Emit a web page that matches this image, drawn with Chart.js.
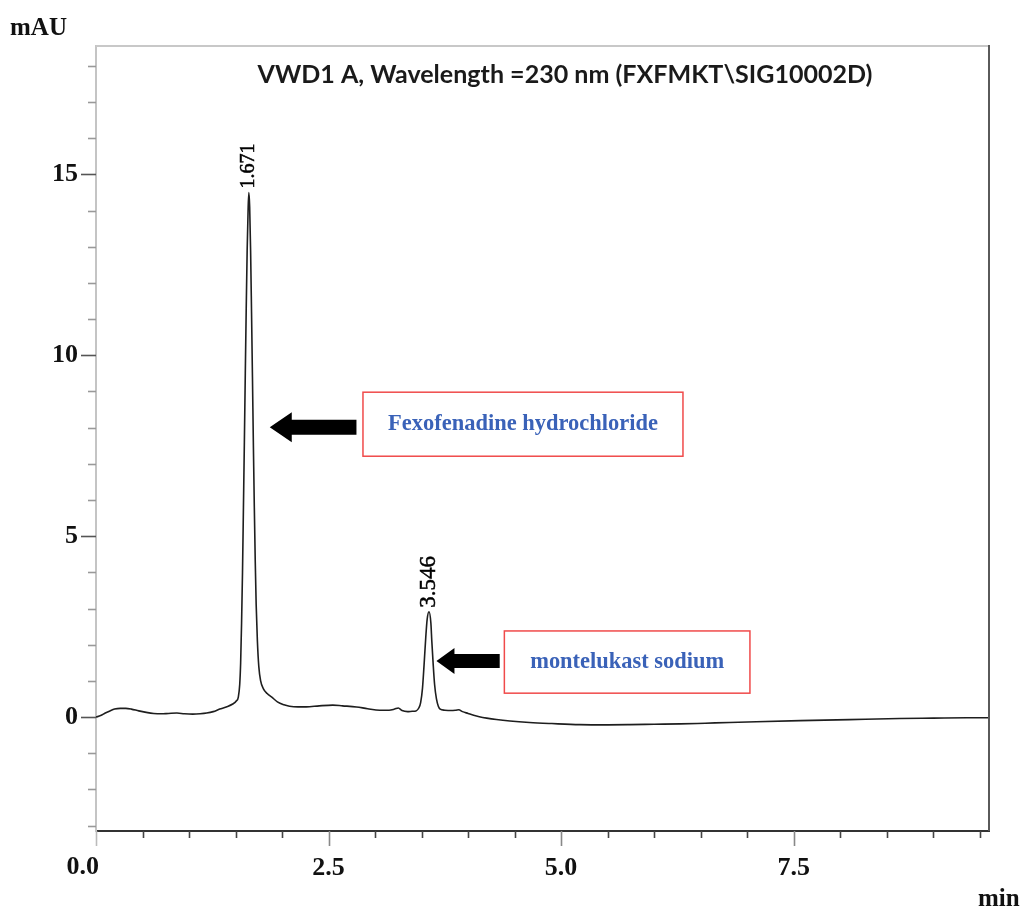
<!DOCTYPE html>
<html>
<head>
<meta charset="utf-8">
<script src="https://cdn.jsdelivr.net/npm/chart.js@4"></script>
<style>
  html, body { margin: 0; padding: 0; background: #ffffff; }
  canvas { display: block; }
</style>
</head>
<body>
<canvas id="c" width="1028" height="910"></canvas>
<script>
// ---- data (time in min, absorbance in mAU) ----
const times = [
  0.00, 0.05, 0.10, 0.15, 0.20, 0.26, 0.32, 0.38, 0.46, 0.54, 0.62, 0.70, 0.78, 0.87, 0.95,
  1.04, 1.12, 1.19, 1.26, 1.33, 1.40, 1.47, 1.51, 1.53,
  1.545, 1.555, 1.565, 1.575, 1.585, 1.595, 1.605, 1.615, 1.625, 1.635, 1.643, 1.652, 1.662,
  1.672, 1.682, 1.692, 1.702, 1.712, 1.722, 1.735, 1.75, 1.77, 1.80, 1.84, 1.89, 1.95, 2.02,
  2.08, 2.17, 2.26, 2.40, 2.545, 2.65, 2.80, 2.92, 3.05, 3.15, 3.21, 3.25, 3.29, 3.35, 3.40, 3.44,
  3.47, 3.49, 3.51, 3.527, 3.545, 3.56, 3.58, 3.60, 3.61, 3.625, 3.64, 3.66, 3.68, 3.70, 3.75,
  3.82, 3.87, 3.90, 3.94, 4.00, 4.06, 4.12, 4.20, 4.305, 4.45, 4.66, 4.90, 5.20, 5.50, 5.74,
  6.00, 6.28, 6.55, 6.81, 7.10, 7.57, 8.10, 8.64, 9.00, 9.36, 9.60
];
const absorbance = [
  0.00, 0.04, 0.11, 0.17, 0.22, 0.24, 0.24, 0.22, 0.17, 0.13, 0.10, 0.09, 0.10, 0.11, 0.09,
  0.08, 0.09, 0.11, 0.15, 0.22, 0.28, 0.36, 0.45, 0.55,
  0.90, 1.50, 2.60, 4.00, 5.80, 7.60, 9.50, 11.30, 12.90, 14.00, 14.50, 14.10, 12.90,
  11.20, 9.40, 7.50, 5.80, 4.30, 3.10, 2.10, 1.40, 1.00, 0.78, 0.65, 0.55, 0.42, 0.34,
  0.30, 0.28, 0.28, 0.31, 0.33, 0.31, 0.28, 0.23, 0.19, 0.19, 0.22, 0.25, 0.18, 0.15, 0.16, 0.17,
  0.25, 0.40, 0.80, 1.45, 2.20, 2.70, 2.91, 2.60, 2.10, 1.45, 0.90, 0.50, 0.30, 0.22, 0.19,
  0.18, 0.19, 0.20, 0.15, 0.10, 0.05, 0.01, -0.03, -0.07, -0.11, -0.15, -0.18, -0.21, -0.215, -0.21,
  -0.20, -0.19, -0.17, -0.15, -0.13, -0.10, -0.07, -0.04, -0.03, -0.02, -0.02
];
const xTickLabels = ['0.0', '2.5', '5.0', '7.5'];
const yTickLabels = ['0', '5', '10', '15'];
const peakTimes = [1.643, 3.58];
const peakLabels = ['1.671', '3.546'];
const compoundNames = ['Fexofenadine hydrochloride', 'montelukast sodium'];
const titleText = 'VWD1 A, Wavelength =230 nm (FXFMKT\\SIG10002D)';
const yUnit = 'mAU';
const xUnit = 'min';

// ---- annotation layout (data units) ----
const notes = [
  { box: [2.87, 6.31, 8.98, 7.21], tip: 1.868, tail: 2.80, y: 8.01, textW: 270 },
  { box: [4.39, 7.03, 2.38, 0.66], tip: 3.66, tail: 4.34, y: 1.55, textW: 194 }
];

const serif = '"Liberation Serif", "Times New Roman", serif';
const tickFont = { family: serif, size: 26, weight: 'bold' };

function fitFont(ctx, text, weight, family, targetW) {
  ctx.font = weight + ' 20px ' + family;
  const w = ctx.measureText(text).width;
  return 20 * targetW / w;
}

const decor = {
  id: 'decor',
  afterDraw(chart) {
    const ctx = chart.ctx;
    const xs = chart.scales.x, ys = chart.scales.y;
    const a = chart.chartArea;
    ctx.save();
    // frame: top and right
    ctx.lineWidth = 2;
    ctx.strokeStyle = '#c8c8c8';
    ctx.beginPath(); ctx.moveTo(a.left, a.top); ctx.lineTo(a.right, a.top); ctx.stroke();
    ctx.strokeStyle = '#5a5a5a';
    ctx.beginPath(); ctx.moveTo(a.right, a.top - 1); ctx.lineTo(a.right, a.bottom); ctx.stroke();

    // y ticks
    ctx.lineWidth = 1.6;
    ys.ticks.forEach(t => {
      const p = Math.round(ys.getPixelForValue(t.value)) + 0.5;
      const major = Math.abs(t.value % 5) < 1e-6;
      ctx.strokeStyle = major ? '#555' : '#999';
      const len = major ? 15 : 8;
      ctx.beginPath(); ctx.moveTo(a.left - len, p); ctx.lineTo(a.left, p); ctx.stroke();
    });
    // x ticks
    xs.ticks.forEach(t => {
      const p = Math.round(xs.getPixelForValue(t.value)) + 0.5;
      const major = Math.abs(t.value % 2.5) < 1e-6;
      ctx.strokeStyle = t.value === 0 ? '#bbb' : (major ? '#888' : '#444');
      const len = major ? 15 : 7;
      ctx.beginPath(); ctx.moveTo(p, a.bottom); ctx.lineTo(p, a.bottom + len); ctx.stroke();
    });
    // first x label sits left of the axis origin
    ctx.fillStyle = '#111';
    ctx.font = 'bold 26px ' + serif;
    ctx.textAlign = 'right';
    ctx.textBaseline = 'middle';
    ctx.fillText(xTickLabels[0], xs.getPixelForValue(0) + 3, 867);

    // unit labels
    ctx.font = 'bold 25px ' + serif;
    ctx.textAlign = 'left';
    ctx.textBaseline = 'alphabetic';
    ctx.fillText(yUnit, 10, 35);
    ctx.fillText(xUnit, 978, 906);

    // title
    const tSize = fitFont(ctx, titleText, 'bold', 'Lato, "Open Sans", sans-serif', 615);
    ctx.font = 'bold ' + tSize.toFixed(2) + 'px Lato, "Open Sans", sans-serif';
    ctx.textAlign = 'center';
    ctx.textBaseline = 'middle';
    ctx.fillStyle = '#1a1a1a';
    ctx.fillText(titleText, 565, 75);

    // peak labels
    const ds = chart.data.datasets[0].data;
    peakTimes.forEach((pt, i) => {
      let best = ds[0];
      ds.forEach(d => { if (Math.abs(d.x - pt) < Math.abs(best.x - pt)) best = d; });
      const px = xs.getPixelForValue(pt);
      const py = ys.getPixelForValue(best.y);
      ctx.save();
      ctx.translate(px, py - 4);
      ctx.rotate(-Math.PI / 2);
      ctx.font = (i === 0 ? 20 : 23) + 'px ' + serif;
      ctx.fillStyle = '#000';
      ctx.textAlign = 'left';
      ctx.textBaseline = 'middle';
      ctx.fillText(peakLabels[i], 0, 0);
      ctx.lineWidth = 0.5;
      ctx.strokeStyle = '#000';
      ctx.strokeText(peakLabels[i], 0, 0);
      ctx.restore();
    });

    // annotation boxes, texts and arrows
    notes.forEach((n, i) => {
      const x0 = xs.getPixelForValue(n.box[0]), x1 = xs.getPixelForValue(n.box[1]);
      const y0 = ys.getPixelForValue(n.box[2]), y1 = ys.getPixelForValue(n.box[3]);
      ctx.strokeStyle = '#f04a4a';
      ctx.lineWidth = 1.5;
      ctx.strokeRect(x0, y0, x1 - x0, y1 - y0);
      const fs = fitFont(ctx, compoundNames[i], 'bold', serif, n.textW);
      ctx.font = 'bold ' + fs.toFixed(2) + 'px ' + serif;
      ctx.fillStyle = '#3a62b8';
      ctx.textAlign = 'center';
      ctx.textBaseline = 'middle';
      ctx.fillText(compoundNames[i], (x0 + x1) / 2, (y0 + y1) / 2);

      const tx = xs.getPixelForValue(n.tip), ex = xs.getPixelForValue(n.tail);
      const ay = ys.getPixelForValue(n.y);
      const headL = i === 0 ? 22 : 18, headH = i === 0 ? 15 : 13, shaft = i === 0 ? 7.5 : 7;
      ctx.fillStyle = '#000';
      ctx.beginPath();
      ctx.moveTo(tx, ay);
      ctx.lineTo(tx + headL, ay - headH);
      ctx.lineTo(tx + headL, ay - shaft);
      ctx.lineTo(ex, ay - shaft);
      ctx.lineTo(ex, ay + shaft);
      ctx.lineTo(tx + headL, ay + shaft);
      ctx.lineTo(tx + headL, ay + headH);
      ctx.closePath();
      ctx.fill();
    });
    ctx.restore();
  }
};

new Chart(document.getElementById('c'), {
  type: 'line',
  data: {
    datasets: [{
      data: times.map((t, i) => ({ x: t, y: absorbance[i] })),
      borderColor: '#1e1e1e',
      borderWidth: 1.6,
      pointRadius: 0,
      fill: false,
      cubicInterpolationMode: 'monotone'
    }]
  },
  options: {
    responsive: false,
    animation: false,
    devicePixelRatio: 1,
    layout: { padding: { top: 46, right: 39, left: 0, bottom: 0 } },
    plugins: { legend: { display: false }, tooltip: { enabled: false } },
    scales: {
      x: {
        type: 'linear',
        min: 0, max: 9.6,
        afterFit: s => { s.height = 79; },
        border: { display: true, color: '#333', width: 2 },
        grid: { display: true, drawOnChartArea: false, drawTicks: true, tickLength: 15, tickColor: 'rgba(0,0,0,0)' },
        ticks: {
          stepSize: 0.5, includeBounds: false, autoSkip: false, maxRotation: 0, padding: 7,
          color: c => (c.tick && c.tick.value === 0) ? 'rgba(0,0,0,0)' : '#111',
          font: tickFont,
          callback: v => { const k = Math.round(v / 2.5); return Math.abs(v - k * 2.5) < 1e-6 ? (xTickLabels[k] || '') : ''; }
        }
      },
      y: {
        type: 'linear',
        min: -3.15, max: 18.55,
        afterFit: s => { s.width = 96; },
        border: { display: true, color: '#c4c4c4', width: 2 },
        grid: { display: true, drawOnChartArea: false, drawTicks: true, tickLength: 15, tickColor: 'rgba(0,0,0,0)' },
        ticks: {
          stepSize: 1, includeBounds: false, autoSkip: false, padding: 3,
          color: '#111', font: tickFont,
          callback: v => { const k = Math.round(v / 5); return Math.abs(v - k * 5) < 1e-6 ? (yTickLabels[k] || '') : ''; }
        }
      }
    }
  },
  plugins: [decor]
});
</script>
</body>
</html>
